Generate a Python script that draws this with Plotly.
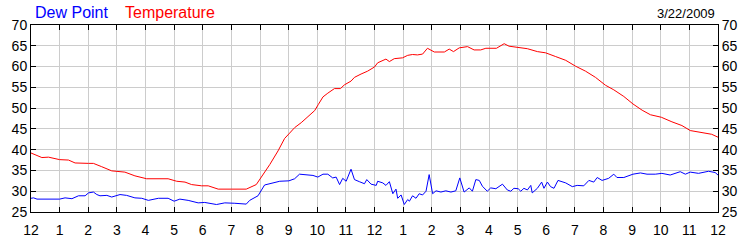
import plotly.graph_objects as go

temp_hours = [0, 0.38, 0.61, 1.0, 1.31, 1.54, 2.01, 2.18, 2.47, 2.82, 3.28, 3.63, 4.04, 4.79, 5.09, 5.38,
              5.61, 5.96, 6.19, 6.54, 7.0, 7.52, 7.87, 8.16, 8.34, 8.63, 8.86, 9.01, 9.21, 9.44, 9.67, 9.91,
              10.04, 10.2, 10.37, 10.6, 10.81, 10.95, 11.18, 11.3, 11.53, 11.76, 12.0, 12.11, 12.4, 12.52,
              12.69, 12.98, 13.16, 13.33, 13.5, 13.68, 13.85, 14.09, 14.44, 14.61, 14.76, 14.96, 15.25,
              15.48, 15.71, 15.89, 16.26, 16.53, 16.7, 17.02, 17.34, 17.69, 17.98, 18.33, 18.68, 19.02,
              19.37, 19.72, 20.07, 20.36, 20.71, 21.03, 21.35, 21.64, 22.02, 22.39, 22.74, 23.03, 23.44,
              23.78, 24.0]
temp_values = [39.2, 38.1, 38.2, 37.6, 37.5, 36.8, 36.7, 36.7, 35.9, 34.9, 34.6, 33.7, 33.0, 33.0, 32.4, 32.2,
               31.6, 31.3, 31.3, 30.5, 30.5, 30.5, 31.6, 34.4, 36.4, 39.7, 42.7, 43.8, 45.3, 46.5, 48.0, 49.4,
               50.9, 52.7, 53.6, 54.7, 54.7, 55.6, 56.5, 57.4, 58.2, 58.9, 59.9, 60.9, 61.8, 61.2,
               61.9, 62.1, 62.7, 62.9, 62.8, 63.0, 64.4, 63.5, 63.5, 64.2, 63.6, 64.5, 64.8,
               64.0, 64.0, 64.4, 64.4, 65.5, 64.9, 64.6, 64.3, 63.6, 63.3, 62.4, 61.5, 60.1,
               58.9, 57.4, 55.5, 54.4, 52.8, 51.0, 49.5, 48.4, 47.8, 46.7, 45.8, 44.6, 44.2,
               43.7, 43.0]

dew_hours = [0, 0.09, 0.21, 0.5, 0.73, 1.0, 1.19, 1.43, 1.66, 1.89, 2.01, 2.18, 2.3, 2.41, 2.65, 2.82, 3.11,
             3.34, 3.63, 3.87, 4.1, 4.45, 4.79, 5.0, 5.2, 5.49, 5.84, 6.07, 6.48, 6.77, 7.12, 7.35, 7.52,
             7.64, 7.93, 8.16, 8.45, 8.69, 9.01, 9.21, 9.38, 9.67, 9.85, 10.02, 10.2, 10.37, 10.54, 10.66,
             10.78, 10.89, 11.01, 11.18, 11.3, 11.47, 11.65, 11.73, 11.88, 12.06, 12.11, 12.29, 12.4,
             12.52, 12.64, 12.75, 12.81, 12.93, 13.04, 13.16, 13.22, 13.33, 13.45, 13.56, 13.68, 13.8,
             13.91, 14.03, 14.15, 14.32, 14.49, 14.67, 14.84, 14.98, 15.13, 15.31, 15.42, 15.54, 15.66,
             15.77, 15.94, 16.06, 16.24, 16.47, 16.64, 16.76, 16.87, 17.02, 17.11, 17.22, 17.34, 17.46,
             17.51, 17.69, 17.84, 17.92, 18.04, 18.15, 18.27, 18.41, 18.68, 18.91, 19.08, 19.31, 19.49,
             19.66, 19.78, 19.95, 20.18, 20.36, 20.47, 20.71, 20.88, 21.03, 21.29, 21.52, 21.81, 22.04,
             22.33, 22.68, 22.86, 23.03, 23.32, 23.67, 23.9, 24.0]
dew_values = [28.3, 28.4, 28.1, 28.1, 28.2, 28.1, 28.4, 28.2, 28.9, 28.9, 29.6, 29.8, 29.2, 28.9, 29.0, 28.6, 29.2,
              29.0, 28.4, 28.3, 27.8, 28.3, 28.3, 27.6, 28.1, 27.8, 27.2, 27.3, 26.8, 27.2, 27.1, 26.9, 26.9,
              27.8, 28.9, 31.5, 32.0, 32.4, 32.5, 33.0, 34.1, 34.0, 33.8, 33.4, 34.1, 34.1, 33.2, 33.4,
              31.6, 33.1, 32.4, 35.3, 32.8, 32.3, 31.8, 32.8, 31.7, 31.4, 32.4, 32.0, 31.4,
              32.3, 29.4, 30.5, 28.3, 29.1, 26.8, 28.0, 27.6, 28.9, 28.3, 29.4, 29.1, 30.0,
              34.0, 29.4, 30.1, 29.8, 30.1, 29.8, 30.1, 33.2, 29.8, 30.8, 30.0, 32.8, 32.6,
              31.2, 30.0, 30.8, 30.6, 31.7, 30.3, 30.0, 30.7, 30.6, 30.0, 30.7, 30.3, 31.4,
              29.6, 30.7, 32.2, 30.7, 32.2, 31.1, 30.7, 32.6, 32.0, 31.1, 31.4, 31.3, 32.6,
              32.2, 33.3, 32.6, 33.1, 34.1, 33.3, 33.3, 33.7, 34.1, 34.4, 34.1, 34.1, 34.3,
              33.9, 34.7, 34.1, 34.6, 34.3, 34.8, 34.5, 33.9]

x_tick_vals = list(range(0, 25))
x_tick_text = ["12", "1", "2", "3", "4", "5", "6", "7", "8", "9", "10", "11",
               "12", "1", "2", "3", "4", "5", "6", "7", "8", "9", "10", "11", "12"]
y_tick_vals = [25, 30, 35, 40, 45, 50, 55, 60, 65, 70]
date_label = "3/22/2009"

FONT = "Liberation Sans, Arial, sans-serif"

fig = go.Figure()
fig.add_trace(go.Scatter(x=temp_hours, y=temp_values, mode="lines",
                         line=dict(color="#ff0000", width=1), name="Temperature"))
fig.add_trace(go.Scatter(x=dew_hours, y=dew_values, mode="lines",
                         line=dict(color="#0000ff", width=1), name="Dew Point"))
# invisible trace to activate the right-hand axis
fig.add_trace(go.Scatter(x=[0], y=[25], yaxis="y2", mode="markers",
                         marker=dict(opacity=0), showlegend=False, hoverinfo="skip"))

axis_common = dict(showline=True, linecolor="black", linewidth=1, ticks="inside",
                   ticklen=5, tickcolor="black", tickwidth=1,
                   tickfont=dict(family=FONT, size=14, color="black"), zeroline=False)

L, R, T, B = 31, 30, 25, 25
fig.update_layout(
    width=750, height=250,
    margin=dict(l=L, r=R, t=T, b=B),
    paper_bgcolor="white", plot_bgcolor="white",
    showlegend=False,
    xaxis=dict(range=[0, 24], tickvals=x_tick_vals, ticktext=x_tick_text,
               showgrid=True, gridcolor="#cccccc", gridwidth=1, mirror="ticks",
               ticklabelstandoff=5, **axis_common),
    yaxis=dict(range=[25, 70], tickvals=y_tick_vals, showgrid=True,
               gridcolor="#cccccc", gridwidth=1, mirror="ticks", **axis_common),
    yaxis2=dict(range=[25, 70], tickvals=y_tick_vals, overlaying="y", side="right",
                showgrid=False, **axis_common),
)

pw = 750 - L - R
ph = 250 - T - B
def px(x):
    return (x - L) / pw
def py(y):
    return (250 - B - y) / ph

fig.add_annotation(text="Dew Point", x=px(33), y=py(12), xref="paper", yref="paper",
                   xanchor="left", yanchor="middle", showarrow=False,
                   font=dict(family=FONT, size=16, color="#0000ff"))
fig.add_annotation(text="Temperature", x=px(123), y=py(12), xref="paper", yref="paper",
                   xanchor="left", yanchor="middle", showarrow=False,
                   font=dict(family=FONT, size=16, color="#ff0000"))
fig.add_annotation(text=date_label, x=px(719), y=py(13), xref="paper", yref="paper",
                   xanchor="right", yanchor="middle", showarrow=False,
                   font=dict(family=FONT, size=13, color="black"))

fig.write_html("out.html")
